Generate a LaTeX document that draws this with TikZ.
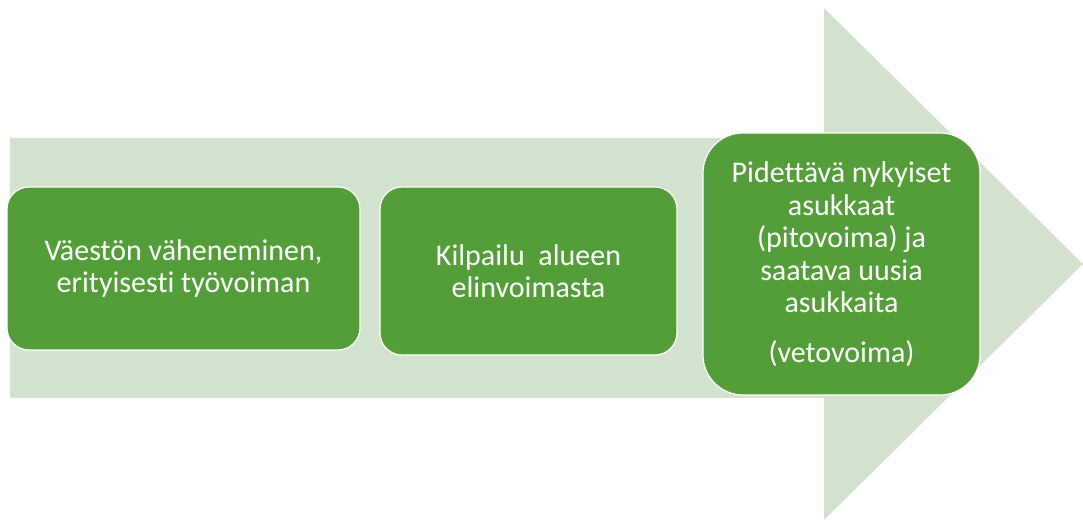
\documentclass[tikz,border=0pt]{standalone}
\usepackage{fontspec}
\setmainfont{Carlito}[Ligatures=CommonOff]
\usetikzlibrary{positioning}

\definecolor{arrowgreen}{RGB}{211,226,207}
\definecolor{boxgreen}{RGB}{84,158,57}

\begin{document}
\begin{tikzpicture}[x=1pt,y=1pt,
  stage/.style={draw=white, line width=1.2pt, fill=boxgreen, text=white,
    rounded corners=22pt, align=center, inner sep=0pt,
    font=\fontsize{30}{32.5}\selectfont}]

\useasboundingbox (0,0) rectangle (1083,526);

% the big arrow
\fill[arrowgreen] (10,388) -- (824,388) -- (824,518) -- (1083,262)
  -- (824,6) -- (824,128) -- (10,128) -- cycle;

\node[stage, minimum width=353pt, minimum height=163pt] (decline) at (183.5,257.5)
  {Väestön väheneminen,\\erityisesti työvoiman};

\node[stage, minimum width=297pt, minimum height=168pt] (competition) at (528.5,255)
  {Kilpailu\ \ alueen\\elinvoimasta};

\node[stage, rounded corners=40pt, minimum width=277pt, minimum height=262pt] (residents) at (841.5,262)
  {Pidettävä nykyiset\\asukkaat\\(pitovoima) ja\\saatava uusia\\asukkaita\\[17pt](vetovoima)};

\end{tikzpicture}
\end{document}
